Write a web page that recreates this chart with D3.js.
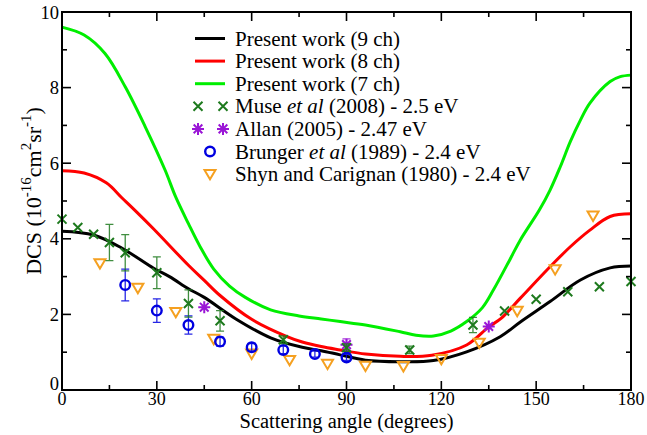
<!DOCTYPE html>
<html>
<head>
<meta charset="utf-8">
<script src="https://cdn.jsdelivr.net/npm/d3@7"></script>
<style>
  html, body { margin: 0; padding: 0; background: #fff; }
  svg { display: block; font-family: "Liberation Serif", "DejaVu Serif", serif; }
</style>
</head>
<body>
<div id="chart"></div>
<script>
// DCS vs scattering angle, present work curves + experimental sets

// theory curves (angle in degrees, DCS in 1e-16 cm^2 sr^-1)
const ang9 = [0, 10, 19, 29, 34, 40, 45, 55, 66, 76, 82, 88, 96, 107, 117.5, 128, 138.6, 145, 154.4, 164, 173.4, 180];
const dcs9 = [4.2, 4.1, 3.75, 3.22, 3.0, 2.68, 2.45, 1.88, 1.38, 1.13, 1.04, 0.93, 0.79, 0.75, 0.78, 1.01, 1.41, 1.8, 2.34, 2.91, 3.23, 3.28];

const ang8 = [0, 7, 14, 19, 23, 29, 40, 45, 50, 60, 71, 76, 82, 88, 96, 107, 117, 128, 135, 139, 145, 154.4, 160.8, 167, 173.4, 180];
const dcs8 = [5.8, 5.74, 5.48, 5.08, 4.76, 4.26, 3.3, 2.9, 2.5, 1.87, 1.42, 1.27, 1.15, 1.06, 0.95, 0.89, 0.92, 1.19, 1.67, 1.9, 2.43, 3.26, 3.79, 4.23, 4.59, 4.66];

const ang7 = [0, 7, 13.6, 20, 26.3, 32.6, 36, 40, 43.7, 48, 53, 58, 66, 75, 82, 88, 96, 107, 112, 117.5, 123, 128, 133, 136.5, 142, 145, 151, 154.4, 157.6, 160.8, 164, 167, 173.4, 176.6, 180];
const dcs7 = [9.6, 9.39, 8.9, 8.02, 6.97, 5.82, 5.1, 4.4, 3.79, 3.2, 2.75, 2.45, 2.12, 1.96, 1.88, 1.81, 1.72, 1.54, 1.45, 1.43, 1.56, 1.81, 2.18, 2.65, 3.5, 3.97, 4.76, 5.29, 5.9, 6.57, 7.14, 7.59, 8.16, 8.29, 8.33];

// Muse et al (2008) - 2.5 eV
const museAng = [0, 5, 10, 15, 20, 30, 40, 50, 70, 90, 110, 130, 140, 150, 160, 170, 180];
const museDcs = [4.52, 4.3, 4.12, 3.9, 3.63, 3.1, 2.29, 1.83, 1.33, 1.12, 1.06, 1.72, 2.09, 2.4, 2.6, 2.73, 2.87];
const museErr = [0, 0, 0, 0.48, 0.48, 0.42, 0.36, 0.27, 0.1, 0.1, 0.1, 0.2, 0, 0, 0, 0, 0];

// Allan (2005) - 2.47 eV
const allanAng = [45, 90, 135];
const allanDcs = [2.19, 1.2, 1.68];
const allanErr = [0, 0.15, 0];

// Brunger et al (1989) - 2.4 eV
const brAng = [20, 30, 40, 50, 60, 70, 80, 90];
const brDcs = [2.78, 2.1, 1.72, 1.28, 1.13, 1.06, 0.95, 0.86];
const brErr = [0.42, 0.31, 0.24, 0.12, 0.1, 0.1, 0.08, 0.08];

// Shyn and Carignan (1980) - 2.4 eV
const shynAng = [12, 24, 36, 48, 60, 72, 84, 96, 108, 120, 132, 144, 156, 168];
const shynDcs = [3.35, 2.7, 2.06, 1.35, 0.96, 0.79, 0.69, 0.64, 0.63, 0.82, 1.25, 2.09, 3.19, 4.61];

const xTicks = [0, 30, 60, 90, 120, 150, 180];
const yTicks = [0, 2, 4, 6, 8, 10];

const W = 647, H = 435;
const m = {left: 62, right: 16, top: 12, bottom: 45};

const svg = d3.select("#chart").append("svg")
    .attr("width", W)
    .attr("height", H);

const x = d3.scaleLinear().domain([0, 180]).range([m.left, W - m.right]);
const y = d3.scaleLinear().domain([0, 10]).range([H - m.bottom, m.top]);

const colBlack = "#000000", colRed = "#ff0000", colGreen = "#00ee00";
const colMuse = "#1e7a1e", colAllan = "#9a16d6", colBr = "#0000e0", colShyn = "#f5a020";

// theory curves
const line = d3.line().x(d => x(d[0])).y(d => y(d[1])).curve(d3.curveCatmullRom.alpha(0.5));
[[ang7, dcs7, colGreen], [ang8, dcs8, colRed], [ang9, dcs9, colBlack]].forEach(([a, v, c]) => {
    svg.append("path")
        .attr("d", line(d3.zip(a, v)))
        .attr("fill", "none")
        .attr("stroke", c)
        .attr("stroke-width", 3)
        .attr("stroke-linejoin", "round");
});

// marker shapes, drawn around (0,0)
function drawMarker(g, type, color) {
    if (type === "x") {
        const s = 4.5;
        g.append("path").attr("d", `M${-s},${-s}L${s},${s}M${-s},${s}L${s},${-s}`)
            .attr("stroke", color).attr("stroke-width", 2).attr("fill", "none");
    } else if (type === "star") {
        const s = 6;
        const d = s * 0.72;
        g.append("path")
            .attr("d", `M${-s},0L${s},0M0,${-s}L0,${s}M${-d},${-d}L${d},${d}M${-d},${d}L${d},${-d}`)
            .attr("stroke", color).attr("stroke-width", 2).attr("fill", "none");
    } else if (type === "circle") {
        g.append("circle").attr("r", 4.8)
            .attr("stroke", color).attr("stroke-width", 2.4).attr("fill", "none");
    } else if (type === "tri") {
        const s = 5.5;
        g.append("path").attr("d", `M${-s},${-s * 0.75}L${s},${-s * 0.75}L0,${s * 0.95}Z`)
            .attr("stroke", color).attr("stroke-width", 2).attr("fill", "none")
            .attr("stroke-linejoin", "miter");
    }
}

function drawSet(angs, vals, errs, type, color) {
    const g = svg.append("g");
    angs.forEach((a, i) => {
        const px = x(a), py = y(vals[i]);
        const e = errs ? errs[i] : 0;
        if (e > 0) {
            const y1 = y(vals[i] + e), y2 = y(vals[i] - e);
            g.append("path")
                .attr("d", `M${px},${y1}L${px},${y2}M${px - 4},${y1}L${px + 4},${y1}M${px - 4},${y2}L${px + 4},${y2}`)
                .attr("stroke", color).attr("stroke-width", 1.3).attr("fill", "none").attr("opacity", 0.85);
        }
        drawMarker(g.append("g").attr("transform", `translate(${px},${py})`), type, color);
    });
}

drawSet(shynAng, shynDcs, null, "tri", colShyn);
drawSet(brAng, brDcs, brErr, "circle", colBr);
drawSet(allanAng, allanDcs, allanErr, "star", colAllan);
drawSet(museAng, museDcs, museErr, "x", colMuse);

// frame and ticks on all four sides, pointing inward
const x0 = x(0), x1 = x(180), y0 = y(0), y1 = y(10);
svg.append("rect")
    .attr("x", x0).attr("y", y1)
    .attr("width", x1 - x0).attr("height", y0 - y1)
    .attr("fill", "none").attr("stroke", "#000").attr("stroke-width", 2);

const ticks = svg.append("g").attr("stroke", "#000").attr("stroke-width", 1.6);
d3.range(0, 181, 15).forEach(v => {
    const len = v % 30 === 0 ? 9 : 5;
    ticks.append("line").attr("x1", x(v)).attr("x2", x(v)).attr("y1", y0).attr("y2", y0 - len);
    ticks.append("line").attr("x1", x(v)).attr("x2", x(v)).attr("y1", y1).attr("y2", y1 + len);
});
d3.range(0, 11, 1).forEach(v => {
    const len = v % 2 === 0 ? 9 : 5;
    ticks.append("line").attr("y1", y(v)).attr("y2", y(v)).attr("x1", x0).attr("x2", x0 + len);
    ticks.append("line").attr("y1", y(v)).attr("y2", y(v)).attr("x1", x1).attr("x2", x1 - len);
});

// tick labels
svg.append("g").selectAll("text").data(xTicks).join("text")
    .attr("x", d => x(d)).attr("y", y0 + 15)
    .attr("text-anchor", "middle")
    .attr("font-size", 18)
    .text(d => d);

svg.append("g").selectAll("text").data(yTicks).join("text")
    .attr("x", x0 - 3).attr("y", d => y(d) + (d === 0 ? 0 : 6.5))
    .attr("text-anchor", "end")
    .attr("font-size", 18.5)
    .text(d => d);

// axis titles
svg.append("text")
    .attr("x", (x0 + x1) / 2).attr("y", 428)
    .attr("text-anchor", "middle")
    .attr("font-size", 20.5)
    .text("Scattering angle (degrees)");

const yl = svg.append("text")
    .attr("transform", `translate(41,191) rotate(-90)`)
    .attr("text-anchor", "middle")
    .attr("font-size", 22);
yl.append("tspan").text("DCS (10");
yl.append("tspan").attr("dy", -10).attr("font-size", 15).text("-16");
yl.append("tspan").attr("dy", 10).text("cm");
yl.append("tspan").attr("dy", -10).attr("font-size", 15).text("2");
yl.append("tspan").attr("dy", 10).text("sr");
yl.append("tspan").attr("dy", -10).attr("font-size", 15).text("-1");
yl.append("tspan").attr("dy", 10).text(")");

// legend
const legend = [
    {label: ["Present work (9 ch)"], kind: "line", color: colBlack},
    {label: ["Present work (8 ch)"], kind: "line", color: colRed},
    {label: ["Present work (7 ch)"], kind: "line", color: colGreen},
    {label: ["Muse ", "et al", " (2008) - 2.5 eV"], kind: "x2", color: colMuse},
    {label: ["Allan (2005) - 2.47 eV"], kind: "star2", color: colAllan},
    {label: ["Brunger ", "et al", " (1989) - 2.4 eV"], kind: "circle", color: colBr},
    {label: ["Shyn and Carignan (1980) - 2.4 eV"], kind: "tri", color: colShyn}
];
const lg = svg.append("g");
legend.forEach((d, i) => {
    const ly = 38.5 + i * 22.6;
    if (d.kind === "line") {
        lg.append("line").attr("x1", 195).attr("x2", 225).attr("y1", ly).attr("y2", ly)
            .attr("stroke", d.color).attr("stroke-width", 3);
    } else if (d.kind === "x2" || d.kind === "star2") {
        const t = d.kind === "x2" ? "x" : "star";
        drawMarker(lg.append("g").attr("transform", `translate(198,${ly})`), t, d.color);
        drawMarker(lg.append("g").attr("transform", `translate(223,${ly})`), t, d.color);
    } else {
        drawMarker(lg.append("g").attr("transform", `translate(210,${ly})`), d.kind, d.color);
    }
    const t = lg.append("text").attr("x", 235).attr("y", ly + 7).attr("font-size", 21);
    d.label.forEach((s, k) => {
        t.append("tspan").attr("font-style", k === 1 ? "italic" : "normal").text(s);
    });
});
</script>
</body>
</html>
